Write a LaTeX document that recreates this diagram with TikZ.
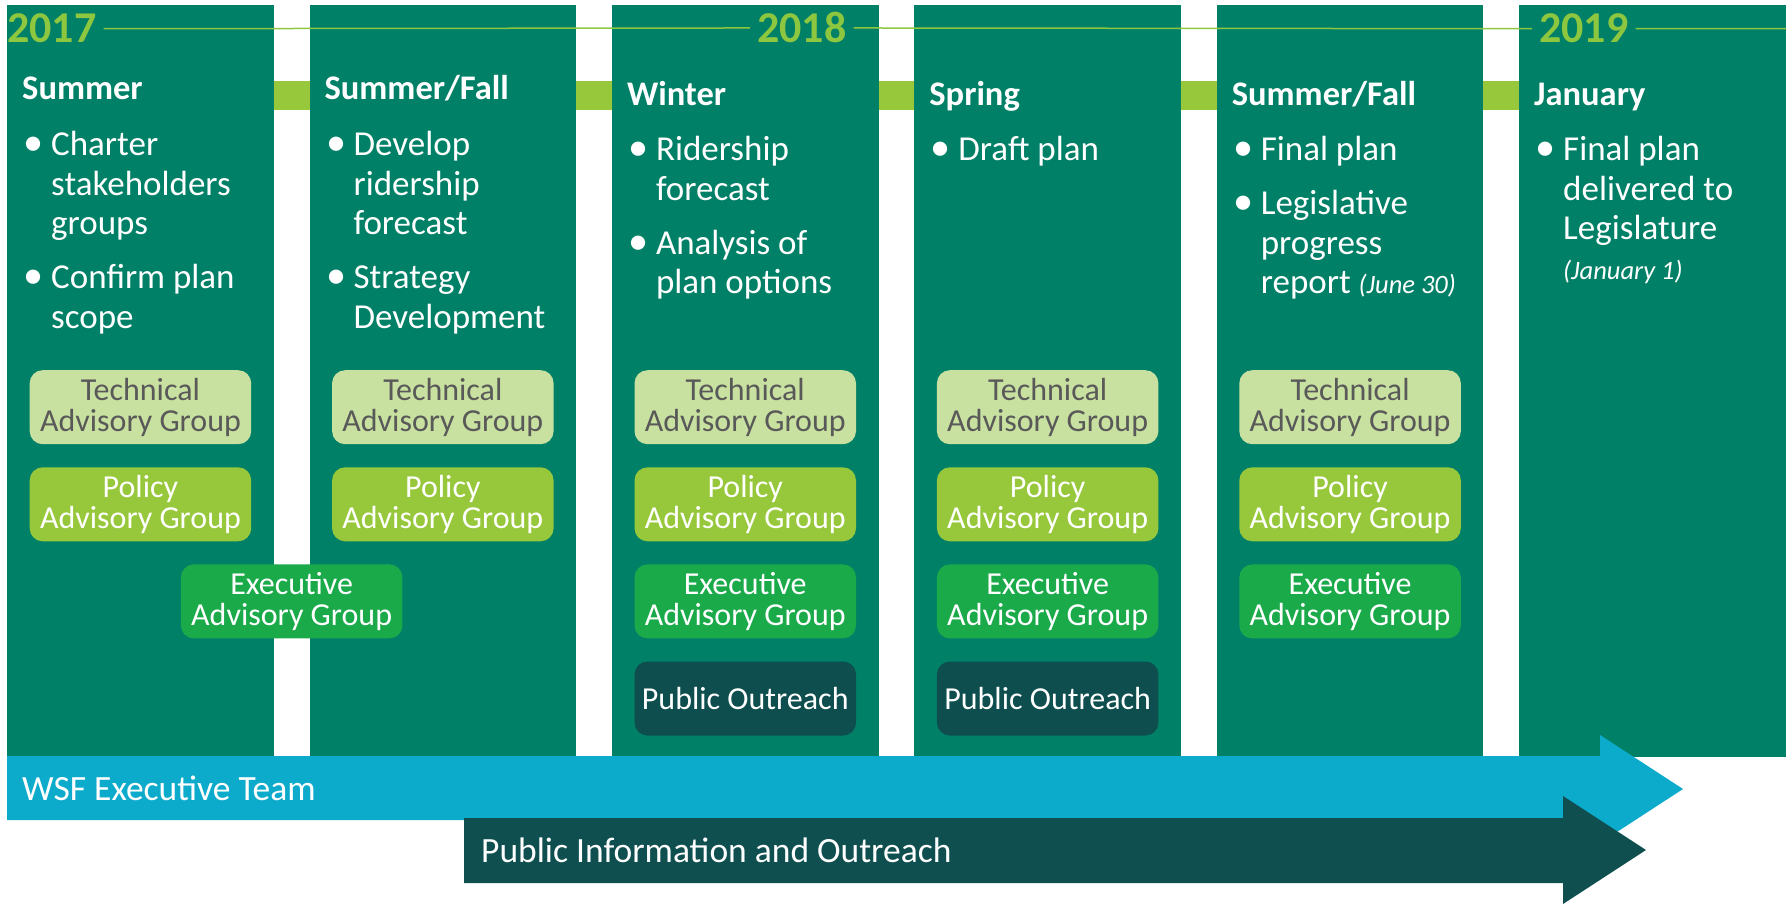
\documentclass[tikz,border=0pt]{standalone}
\usepackage{fontspec}
\setmainfont{Carlito}
\usepackage{tikz}
\usetikzlibrary{positioning, calc}

\definecolor{colgreen}{HTML}{008066}
\definecolor{bandgreen}{HTML}{97C83C}
\definecolor{yeargreen}{HTML}{8DC63F}
\definecolor{techfill}{HTML}{C9E1A0}
\definecolor{techtext}{HTML}{595959}
\definecolor{polfill}{HTML}{97C83C}
\definecolor{execfill}{HTML}{1BAA4A}
\definecolor{pubfill}{HTML}{0E4E4F}
\definecolor{teamblue}{HTML}{0CABCB}
\definecolor{outdark}{HTML}{0F4F4F}

\newcommand{\bul}{\makebox[29pt][l]{\hspace{1.5pt}\scalebox{1.15}{\textbullet}}}
\newcommand{\ind}{\hspace*{29pt}}
\newcommand{\note}[1]{{\fontsize{26.5}{30}\selectfont\itshape #1}}
\newcommand{\blist}[1]{\begin{tabular}[t]{@{}l@{}}#1\end{tabular}}

\begin{document}
\begin{tikzpicture}[
        x=1pt, y=-1pt,
        colbg/.style={fill=colgreen, minimum width=266.5pt, minimum height=752pt, inner sep=0pt, anchor=north west},
        season/.style={text=white, font=\fontsize{34.5}{38}\selectfont\bfseries, inner sep=0pt, anchor=base west},
        items/.style={text=white, font=\fontsize{35}{39.5}\selectfont, inner sep=0pt, anchor=base west},
        yr/.style={text=yeargreen, font=\fontsize{44}{44}\selectfont\bfseries, inner xsep=7pt, inner ysep=0pt, anchor=base west},
        yearline/.style={yeargreen, line width=1.5pt},
        grp/.style={rounded corners=13pt, minimum width=221.5pt, minimum height=74pt, inner sep=0pt, align=center, font=\fontsize{32}{31}\selectfont},
        tech/.style={grp, fill=techfill, text=techtext},
        pol/.style={grp, fill=polfill, text=white},
        exe/.style={grp, fill=execfill, text=white},
        pub/.style={grp, fill=pubfill, text=white},
        band/.style={text=white, font=\fontsize{35.5}{38}\selectfont, inner sep=0pt, anchor=base west},
        node distance=22.7pt
      ]
      \useasboundingbox (0,0) rectangle (1788,904);
      \fill[bandgreen] (7,81) rectangle (1785,110);
      \foreach \i in {1,...,6}
        \node[colbg] (col\i) at ({7+302.4*(\i-1)},5) {};

      \node[yr] (y17) at (0,43) {2017};
      \node[yr] (y18) at (750,43) {2018};
      \node[yr] (y19) at (1532,43) {2019};
      \draw[yearline] (y17.east) -- (y18.west) (y18.east) -- (y19.west) (y19.east) -- (col6.east |- y19.east);

      \node[season] (s1) at ([shift={(15,95)}]col1.north west) {Summer};
      \node[season] (s2) at ([shift={(15,95)}]col2.north west) {Summer/Fall};
      \node[season] (s3) at ([shift={(15,101)}]col3.north west) {Winter};
      \node[season] (s4) at ([shift={(15,101)}]col4.north west) {Spring};
      \node[season] (s5) at ([shift={(15,101)}]col5.north west) {Summer/Fall};
      \node[season] (s6) at ([shift={(15,101)}]col6.north west) {January};

      \node[items] (b1) at ([shift={(0,56)}]s1.base west) {\blist{\bul Charter\\ \ind stakeholders\\ \ind groups\\[14.5pt] \bul Confirm plan\\ \ind scope}};
      \node[items] (b2) at ([shift={(0,56)}]s2.base west) {\blist{\bul Develop\\ \ind ridership\\ \ind forecast\\[14.5pt] \bul Strategy\\ \ind Development}};
      \node[items] (b3) at ([shift={(0,55)}]s3.base west) {\blist{\bul Ridership\\ \ind forecast\\[14.5pt] \bul Analysis of\\ \ind plan options}};
      \node[items] (b4) at ([shift={(0,55)}]s4.base west) {\blist{\bul Draft plan}};
      \node[items] (b5) at ([shift={(0,55)}]s5.base west) {\blist{\bul Final plan\\[14.5pt] \bul Legislative\\ \ind progress\\ \ind report \note{(June 30)}}};
      \node[items] (b6) at ([shift={(0,55)}]s6.base west) {\blist{\bul Final plan\\ \ind delivered to\\ \ind Legislature\\ \ind \note{(January 1)}}};

      \foreach \i in {1,...,5} {
        \node[tech, anchor=north] (t\i) at ([shift={(0,365)}]col\i.north) {Technical\\Advisory Group};
        \node[pol] (p\i) [below=of t\i] {Policy\\Advisory Group};
      }
      \foreach \i in {3,4,5}
        \node[exe] (e\i) [below=of p\i] {Executive\\Advisory Group};
      \foreach \i in {3,4}
        \node[pub] (o\i) [below=of e\i] {Public Outreach};
      \coordinate (m12) at ($(p1.south)!0.5!(p2.south)$);
      \node[exe] (e12) [below=of m12] {Executive\\Advisory Group};

      \fill[teamblue] (7,756) -- (1600,756) -- (1600,735) -- (1683,789) -- (1600,843) -- (1600,820) -- (7,820) -- cycle;
      \fill[outdark] (464,818) -- (1563,818) -- (1563,796) -- (1646,850) -- (1563,904) -- (1563,883) -- (464,883) -- cycle;
      \node[band] (wsf) at (22,800) {WSF Executive Team};
      \node[band] (pio) at (481,862) {Public Information and Outreach};
    \end{tikzpicture}
\end{document}
